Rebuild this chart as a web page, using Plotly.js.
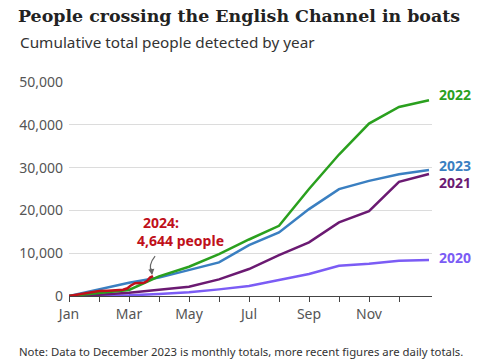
<!DOCTYPE html>
<html>
<head>
<meta charset="utf-8">
<script src="https://cdn.plot.ly/plotly-3.0.1.min.js"></script>
<style>html,body{margin:0;padding:0;background:#fff;}#chart{width:485px;height:360px;}</style>
</head>
<body>
<div id="chart"></div>
<script>
// Month positions: 0 = start of Jan ... 12 = end of Dec
const monthPos = [0, 1, 2, 3, 4, 5, 6, 7, 8, 9, 10, 11, 12];
const tickPos = [0, 1, 2, 3, 4, 5, 6, 7, 8, 9, 10, 11];
const tickLabels = ["Jan", "", "Mar", "", "May", "", "Jul", "", "Sep", "", "Nov", ""];

const y2020 = [0, 60, 150, 470, 860, 1550, 2330, 3730, 5130, 7080, 7540, 8240, 8420];
const y2021 = [0, 300, 780, 1400, 2180, 3890, 6300, 9560, 12520, 17190, 19830, 26670, 28500];
const y2022 = [0, 700, 1400, 4600, 6840, 9800, 13200, 16400, 25000, 33050, 40280, 44170, 45750];
const y2023 = [0, 1500, 3100, 4300, 6070, 7850, 11900, 14850, 20300, 24960, 26900, 28460, 29450];

// 2024 daily cumulative (position in fractional months)
const x2024 = [0, 0.3, 0.6, 0.9, 1.0, 1.3, 1.6, 1.8, 1.95, 2.05, 2.2, 2.35, 2.5, 2.6, 2.7, 2.8];
const y2024 = [0, 300, 700, 1000, 1150, 1250, 1350, 1450, 1800, 2400, 3000, 3050, 3100, 3500, 4300, 4644];

const colors = {y2020: "#7b5cf5", y2021: "#6b1a72", y2022: "#2aa01e", y2023: "#3a7fc1", y2024: "#c0101a"};

const lw = 2.5;
const traces = [
  {x: monthPos, y: y2020, mode: "lines", line: {color: colors.y2020, width: lw}},
  {x: monthPos, y: y2021, mode: "lines", line: {color: colors.y2021, width: lw}},
  {x: monthPos, y: y2023, mode: "lines", line: {color: colors.y2023, width: lw}},
  {x: monthPos, y: y2022, mode: "lines", line: {color: colors.y2022, width: lw}},
  {x: x2024, y: y2024, mode: "lines", line: {color: colors.y2024, width: lw}}
];

const sans = "Noto Sans, Open Sans, sans-serif";
const labelFont = (c) => ({family: sans, size: 14, color: c, weight: 700});

const layout = {
  width: 485, height: 360,
  margin: {l: 69, r: 53, t: 82, b: 64},
  paper_bgcolor: "#fff", plot_bgcolor: "#fff",
  showlegend: false,
  title: {
    text: "<b>People crossing the English Channel in boats</b>",
    font: {family: "DejaVu Serif, Liberation Serif, serif", size: 17.4, color: "#222"},
    xref: "container", yref: "container", x: 18/485, xanchor: "left",
    y: 1 - 16/360, yanchor: "middle"
  },
  xaxis: {
    range: [0, 12.1], tickmode: "array", tickvals: tickPos, ticktext: tickLabels,
    ticks: "outside", ticklen: 5, tickcolor: "#444", tickwidth: 1,
    showline: true, linecolor: "#444", linewidth: 1,
    showgrid: false, zeroline: false,
    tickfont: {family: sans, size: 14, color: "#555"}, fixedrange: true
  },
  yaxis: {
    range: [0, 50000], tickvals: [0, 10000, 20000, 30000, 40000, 50000],
    ticktext: ["0", "10,000", "20,000", "30,000", "40,000", "50,000"],
    showgrid: true, gridcolor: "#dcdcdc", gridwidth: 1, zeroline: false,
    ticks: "", ticklabelstandoff: 5,
    tickfont: {family: sans, size: 14, color: "#555"}, fixedrange: true
  },
  shapes: [
    {type: "path", xref: "x", yref: "y",
     path: "M 2.87,9300 Q 2.62,7200 2.76,5300",
     line: {color: "#666", width: 1.2}}
  ],
  annotations: [
    {xref: "paper", yref: "paper", x: (18-69)/363, y: (296-42)/214, xanchor: "left", yanchor: "middle",
     text: "Cumulative total people detected by year", showarrow: false,
     font: {family: sans, size: 15.3, color: "#333"}},
    {xref: "paper", yref: "paper", x: (17-69)/363, y: (296-342)/214, xanchor: "left", yanchor: "top",
     align: "left",
     text: "Note: Data to December 2023 is monthly totals, more recent figures are daily totals.<br>Some data from the latest week may be unavailable.",
     showarrow: false, font: {family: sans, size: 11.35, color: "#333"}},
    {xref: "paper", yref: "paper", x: 1.0138, y: (296-94)/214, xanchor: "left", yanchor: "middle",
     text: "2022", showarrow: false, font: labelFont(colors.y2022)},
    {xref: "paper", yref: "paper", x: 1.0138, y: (296-165.5)/214, xanchor: "left", yanchor: "middle",
     text: "2023", showarrow: false, font: labelFont(colors.y2023)},
    {xref: "paper", yref: "paper", x: 1.0138, y: (296-182.5)/214, xanchor: "left", yanchor: "middle",
     text: "2021", showarrow: false, font: labelFont(colors.y2021)},
    {xref: "paper", yref: "paper", x: 1.0138, y: (296-257)/214, xanchor: "left", yanchor: "middle",
     text: "2020", showarrow: false, font: labelFont(colors.y2020)},
    {xref: "paper", yref: "paper", x: (161-69)/363, y: (296-222)/214, xanchor: "center", yanchor: "middle",
     text: "2024:", showarrow: false, font: labelFont(colors.y2024)},
    {xref: "paper", yref: "paper", x: (180-69)/363, y: (296-240)/214, xanchor: "center", yanchor: "middle",
     text: "4,644 people", showarrow: false, font: labelFont(colors.y2024)},
    {xref: "x", yref: "y", x: 2.77, y: 4900, ax: -1, ay: -8, text: "", showarrow: true,
     arrowhead: 2, arrowsize: 1, arrowwidth: 1.2, arrowcolor: "#666"}
  ]
};

Plotly.newPlot("chart", traces, layout, {staticPlot: true, displayModeBar: false});
</script>
</body>
</html>
